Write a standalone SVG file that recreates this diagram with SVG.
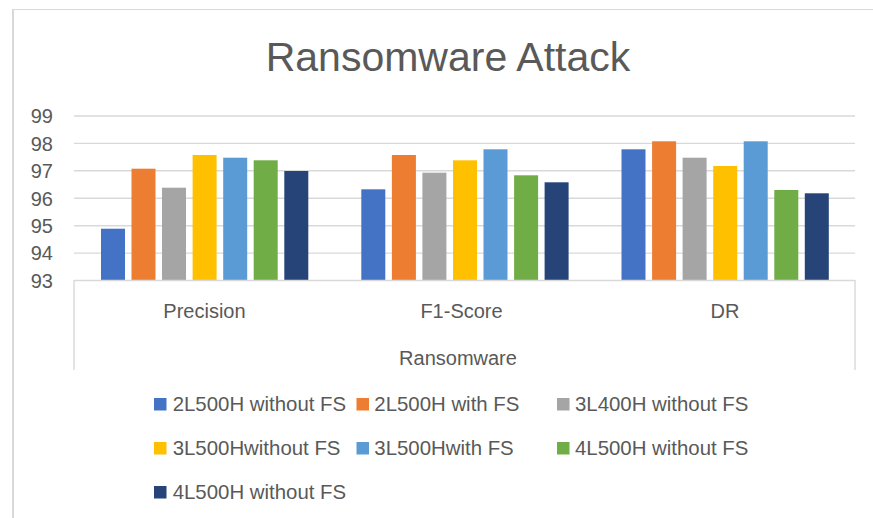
<svg xmlns="http://www.w3.org/2000/svg" width="873" height="518" viewBox="0 0 873 518">
  <style>
    text { font-family: "Liberation Sans", Arial, sans-serif; fill: #595959; }
    .title { font-size: 41px; text-anchor: middle; }
    .ytick { font-size: 20px; text-anchor: end; }
    .cat { font-size: 20px; text-anchor: middle; }
    .leg { font-size: 20.4px; }
    .grid { stroke: #d9d9d9; stroke-width: 1.4; fill: none; }
    .frame { stroke: #d9d9d9; fill: none; }
    .s1 { fill: #4472c4; }
    .s2 { fill: #ed7d31; }
    .s3 { fill: #a5a5a5; }
    .s4 { fill: #ffc000; }
    .s5 { fill: #5b9bd5; }
    .s6 { fill: #70ad47; }
    .s7 { fill: #264478; }
  </style>

  <rect x="0" y="0" width="873" height="518" fill="#ffffff"/>

  <!-- chart area border (top and left edges) -->
  <g id="chart-frame" class="frame">
    <line x1="12" y1="9.5" x2="873" y2="9.5" stroke-width="1.2"/>
    <line x1="13" y1="9" x2="13" y2="518" stroke-width="2"/>
  </g>

  <text id="chart-title" class="title" x="448" y="71">Ransomware Attack</text>

  <!-- value axis: gridlines and tick labels -->
  <g id="value-axis">
    <line class="grid" x1="74" y1="116" x2="855" y2="116"/>
    <line class="grid" x1="74" y1="143.4" x2="855" y2="143.4"/>
    <line class="grid" x1="74" y1="170.8" x2="855" y2="170.8"/>
    <line class="grid" x1="74" y1="198.3" x2="855" y2="198.3"/>
    <line class="grid" x1="74" y1="225.7" x2="855" y2="225.7"/>
    <line class="grid" x1="74" y1="253.1" x2="855" y2="253.1"/>
    <text class="ytick" x="53" y="123.3">99</text>
    <text class="ytick" x="53" y="150.7">98</text>
    <text class="ytick" x="53" y="178.1">97</text>
    <text class="ytick" x="53" y="205.6">96</text>
    <text class="ytick" x="53" y="233">95</text>
    <text class="ytick" x="53" y="260.4">94</text>
    <text class="ytick" x="53" y="287.8">93</text>
  </g>

  <!-- bars, one group per metric -->
  <g id="bars-precision">
    <rect class="s1" x="101" y="228.7" width="24" height="51.8"/>
    <rect class="s2" x="131.5" y="168.7" width="24" height="111.8"/>
    <rect class="s3" x="162" y="187.7" width="24" height="92.8"/>
    <rect class="s4" x="192.6" y="155" width="24" height="125.5"/>
    <rect class="s5" x="223.2" y="157.7" width="24" height="122.8"/>
    <rect class="s6" x="253.7" y="160.3" width="24" height="120.2"/>
    <rect class="s7" x="284.3" y="171" width="24" height="109.5"/>
  </g>
  <g id="bars-f1">
    <rect class="s1" x="361.3" y="189.3" width="24" height="91.2"/>
    <rect class="s2" x="391.9" y="155" width="24" height="125.5"/>
    <rect class="s3" x="422.4" y="172.7" width="24" height="107.8"/>
    <rect class="s4" x="453" y="160.3" width="24" height="120.2"/>
    <rect class="s5" x="483.5" y="149.3" width="24" height="131.2"/>
    <rect class="s6" x="514.1" y="175.3" width="24" height="105.2"/>
    <rect class="s7" x="544.6" y="182.3" width="24" height="98.2"/>
  </g>
  <g id="bars-dr">
    <rect class="s1" x="621.5" y="149.3" width="24" height="131.2"/>
    <rect class="s2" x="652.1" y="141.3" width="24" height="139.2"/>
    <rect class="s3" x="682.6" y="157.7" width="24" height="122.8"/>
    <rect class="s4" x="713.2" y="166" width="24" height="114.5"/>
    <rect class="s5" x="743.7" y="141.3" width="24" height="139.2"/>
    <rect class="s6" x="774.3" y="190" width="24" height="90.5"/>
    <rect class="s7" x="804.8" y="193.3" width="24" height="87.2"/>
  </g>

  <!-- multi-level category axis -->
  <g id="category-axis">
    <line class="grid" x1="74" y1="280.5" x2="855" y2="280.5"/>
    <line class="grid" x1="74" y1="280" x2="74" y2="370"/>
    <line class="grid" x1="855" y1="280" x2="855" y2="370"/>
    <text class="cat" x="204.5" y="318">Precision</text>
    <text class="cat" x="461.5" y="318">F1-Score</text>
    <text class="cat" x="725" y="318">DR</text>
    <text class="cat" x="458" y="365">Ransomware</text>
  </g>

  <!-- legend -->
  <g id="legend">
    <rect class="s1" x="154" y="398" width="12.5" height="12.5"/>
    <text class="leg" x="172.7" y="411">2L500H without FS</text>
    <rect class="s2" x="356.5" y="398" width="12.5" height="12.5"/>
    <text class="leg" x="374.3" y="411">2L500H with FS</text>
    <rect class="s3" x="557" y="398" width="12.5" height="12.5"/>
    <text class="leg" x="575" y="411">3L400H without FS</text>

    <rect class="s4" x="154" y="442" width="12.5" height="12.5"/>
    <text class="leg" x="172.7" y="455">3L500Hwithout FS</text>
    <rect class="s5" x="356.5" y="442" width="12.5" height="12.5"/>
    <text class="leg" x="374.3" y="455">3L500Hwith FS</text>
    <rect class="s6" x="557" y="442" width="12.5" height="12.5"/>
    <text class="leg" x="575" y="455">4L500H without FS</text>

    <rect class="s7" x="154" y="486" width="12.5" height="12.5"/>
    <text class="leg" x="172.7" y="499">4L500H without FS</text>
  </g>
</svg>
